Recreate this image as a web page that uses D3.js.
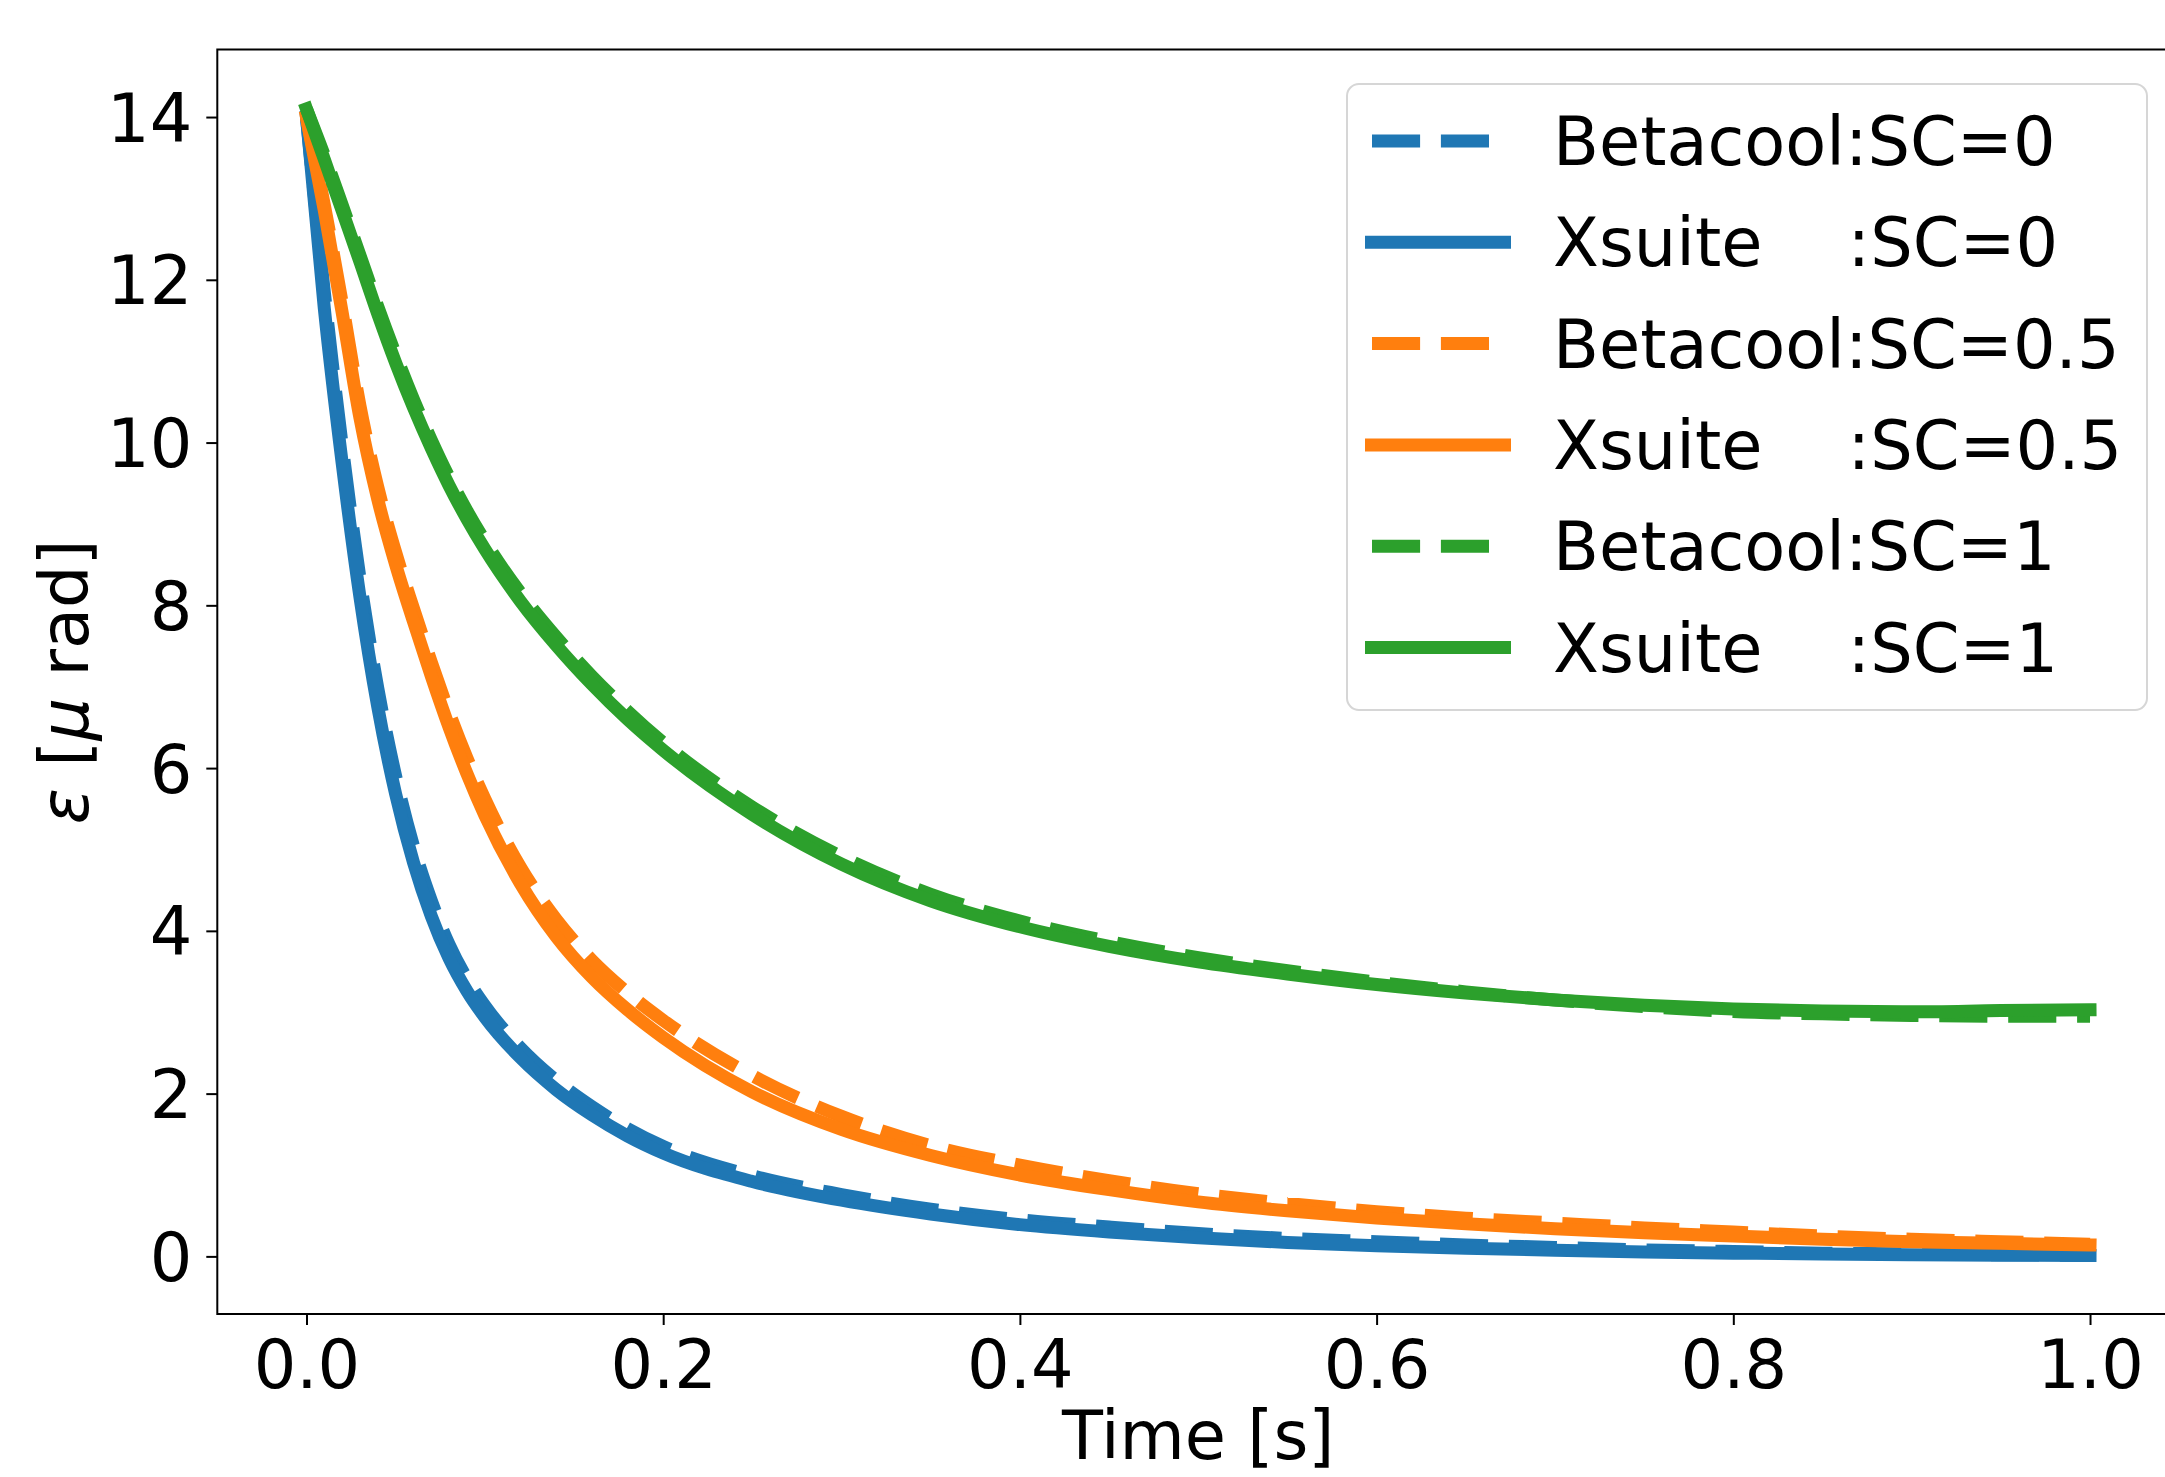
<!DOCTYPE html>
<html>
<head>
<meta charset="utf-8">
<script src="https://cdn.jsdelivr.net/npm/d3@7"></script>
<style>
  html, body { margin: 0; padding: 0; background: #fff; }
  svg { display: block; }
  text { font-family: "DejaVu Sans", sans-serif; fill: #000; }
</style>
</head>
<body>
<div id="chart"></div>
<script>
// ---- data ----
const time = [0, 0.01, 0.02, 0.03, 0.04, 0.05, 0.06, 0.07, 0.08, 0.09, 0.10,
  0.12, 0.14, 0.16, 0.18, 0.20, 0.25, 0.30, 0.35, 0.40, 0.45, 0.50, 0.55,
  0.60, 0.65, 0.70, 0.75, 0.80, 0.85, 0.90, 0.95, 1.00];

const betacoolSC0 = [14.0, 11.85, 9.97, 8.33, 6.98, 5.9, 5.04, 4.37, 3.83, 3.41, 3.08,
  2.56, 2.16, 1.84, 1.57, 1.35, 0.99, 0.76, 0.58, 0.45, 0.36, 0.28, 0.22,
  0.18, 0.14, 0.11, 0.08, 0.06, 0.04, 0.03, 0.02, 0.01];
const xsuiteSC0 = [14.0, 11.65, 9.75, 8.1, 6.75, 5.68, 4.84, 4.18, 3.66, 3.26, 2.94,
  2.44, 2.05, 1.74, 1.48, 1.27, 0.92, 0.69, 0.52, 0.39, 0.30, 0.23, 0.17,
  0.13, 0.10, 0.075, 0.055, 0.04, 0.03, 0.02, 0.015, 0.01];

const betacoolSC05 = [14.0, 12.92, 11.72, 10.45, 9.45, 8.65, 7.96, 7.3, 6.68, 6.12, 5.62,
  4.78, 4.14, 3.64, 3.24, 2.9, 2.22, 1.72, 1.36, 1.12, 0.93, 0.77, 0.65,
  0.55, 0.47, 0.41, 0.35, 0.30, 0.25, 0.21, 0.18, 0.15];
const xsuiteSC05 = [14.0, 12.85, 11.6, 10.3, 9.3, 8.5, 7.8, 7.13, 6.5, 5.93, 5.42,
  4.58, 3.93, 3.43, 3.03, 2.69, 2.02, 1.56, 1.24, 1.0, 0.82, 0.67, 0.56,
  0.47, 0.40, 0.34, 0.29, 0.25, 0.21, 0.18, 0.16, 0.14];

const betacoolSC1 = [14.1, 13.53, 12.92, 12.3, 11.67, 11.08, 10.53, 10.03, 9.57, 9.16, 8.79,
  8.15, 7.61, 7.13, 6.70, 6.31, 5.52, 4.91, 4.45, 4.12, 3.87, 3.67, 3.51,
  3.37, 3.25, 3.15, 3.07, 3.01, 2.98, 2.96, 2.95, 2.95];
const xsuiteSC1 = [14.1, 13.48, 12.85, 12.22, 11.58, 10.98, 10.43, 9.93, 9.47, 9.06, 8.69,
  8.05, 7.51, 7.03, 6.60, 6.22, 5.43, 4.82, 4.37, 4.05, 3.81, 3.62, 3.47,
  3.34, 3.235, 3.15, 3.085, 3.04, 3.015, 3.005, 3.02, 3.03];

const seriesLabels = ["Betacool:SC=0", "Xsuite    :SC=0", "Betacool:SC=0.5",
  "Xsuite    :SC=0.5", "Betacool:SC=1", "Xsuite    :SC=1"];
const seriesValues = [betacoolSC0, xsuiteSC0, betacoolSC05, xsuiteSC05, betacoolSC1, xsuiteSC1];
const seriesColors = ["#1f77b4", "#1f77b4", "#ff7f0e", "#ff7f0e", "#2ca02c", "#2ca02c"];
const seriesDashed = [true, false, true, false, true, false];

const xTicks = [0, 0.2, 0.4, 0.6, 0.8, 1.0];
const yTicks = [0, 2, 4, 6, 8, 10, 12, 14];

(function draw() {
  const W = 2165, H = 1477;
  const pL = 217.3, pR = 2179.2, pT = 49.5, pB = 1314;
  const FS = 67;
  const LW = 13;

  const svg = d3.select("#chart").append("svg")
    .attr("width", W).attr("height", H);

  const x = d3.scaleLinear().domain([-0.05, 1.05]).range([pL, pR]);
  const y = d3.scaleLinear().domain([-0.708, 14.83]).range([pB, pT]);

  const line = d3.line()
    .x(d => x(d[0])).y(d => y(d[1]))
    .curve(d3.curveMonotoneX);

  seriesValues.forEach((vals, i) => {
    const pts = time.map((t, j) => [t, vals[j]]);
    svg.append("path")
      .attr("d", line(pts))
      .attr("fill", "none")
      .attr("stroke", seriesColors[i])
      .attr("stroke-width", LW)
      .attr("stroke-linejoin", "round")
      .attr("stroke-linecap", seriesDashed[i] ? "butt" : "square")
      .attr("stroke-dasharray", seriesDashed[i] ? `${3.7 * LW},${1.6 * LW}` : null);
  });

  const xAxis = d3.axisBottom(x).tickValues(xTicks).tickFormat(d3.format(".1f"))
    .tickSize(11).tickPadding(12);
  const yAxis = d3.axisLeft(y).tickValues(yTicks).tickFormat(d3.format("d"))
    .tickSize(11).tickPadding(14);

  const gx = svg.append("g").attr("transform", `translate(0,${pB})`).call(xAxis);
  const gy = svg.append("g").attr("transform", `translate(${pL},0)`).call(yAxis);
  [gx, gy].forEach(g => {
    g.select(".domain").remove();
    g.selectAll(".tick line").attr("stroke", "#000").attr("stroke-width", 2);
    g.selectAll(".tick text").attr("font-size", FS).attr("font-family", "DejaVu Sans").attr("fill", "#000");
  });
  gx.selectAll(".tick text").attr("dy", "0.76em");
  gy.selectAll(".tick text").attr("dy", "0.36em");

  svg.append("rect")
    .attr("x", pL).attr("y", pT)
    .attr("width", pR - pL).attr("height", pB - pT)
    .attr("fill", "none").attr("stroke", "#000").attr("stroke-width", 2);

  svg.append("text")
    .attr("x", (pL + pR) / 2).attr("y", 1459)
    .attr("text-anchor", "middle").attr("font-size", FS)
    .text("Time [s]");

  const yl = svg.append("text")
    .attr("transform", `translate(88,${(pT + pB) / 2}) rotate(-90)`)
    .attr("text-anchor", "middle").attr("font-size", FS)
    .attr("xml:space", "preserve");
  yl.append("tspan").attr("font-style", "italic").text("ε");
  yl.append("tspan").text(" [");
  yl.append("tspan").attr("font-style", "italic").text("μ");
  yl.append("tspan").text(" rad]");

  const lg = svg.append("g");
  lg.append("rect")
    .attr("x", 1347).attr("y", 84).attr("width", 800).attr("height", 626)
    .attr("rx", 12).attr("ry", 12)
    .attr("fill", "#fff").attr("fill-opacity", 0.8)
    .attr("stroke", "#d6d6d6").attr("stroke-width", 2);

  seriesLabels.forEach((lab, i) => {
    const cy = 141 + i * 101.3;
    lg.append("line")
      .attr("x1", seriesDashed[i] ? 1372 : 1371.5).attr("x2", 1504.5)
      .attr("y1", cy).attr("y2", cy)
      .attr("stroke", seriesColors[i]).attr("stroke-width", LW)
      .attr("stroke-linecap", seriesDashed[i] ? "butt" : "square")
      .attr("stroke-dasharray", seriesDashed[i] ? `${3.7 * LW},${1.6 * LW}` : null);
    lg.append("text")
      .attr("x", 1553).attr("y", cy).attr("dy", "0.36em")
      .attr("font-size", FS)
      .attr("xml:space", "preserve")
      .style("white-space", "pre")
      .text(lab);
  });
})();
</script>
</body>
</html>
